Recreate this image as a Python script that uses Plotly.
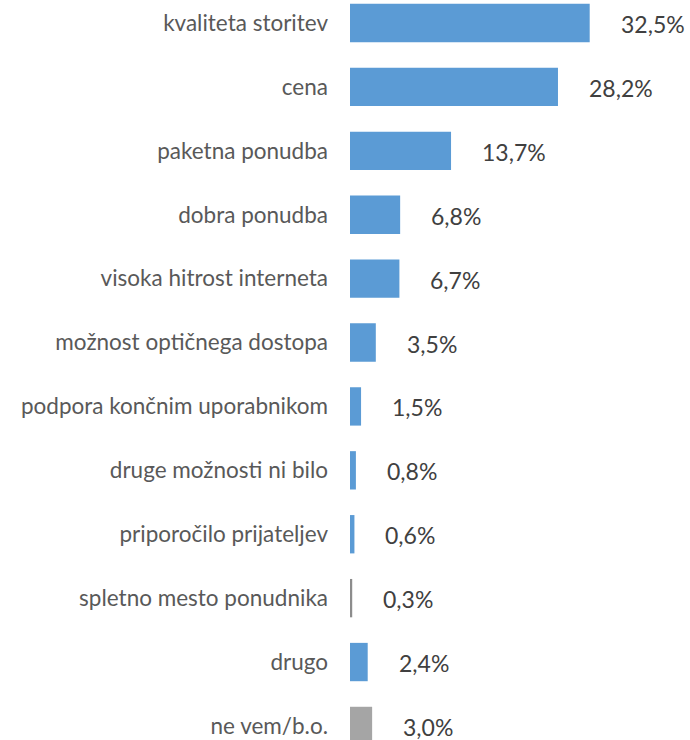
import plotly.graph_objects as go

categories = [
    "kvaliteta storitev", "cena", "paketna ponudba", "dobra ponudba",
    "visoka hitrost interneta", "možnost optičnega dostopa",
    "podpora končnim uporabnikom", "druge možnosti ni bilo",
    "priporočilo prijateljev", "spletno mesto ponudnika", "drugo", "ne vem/b.o.",
]
values = [32.5, 28.2, 13.7, 6.8, 6.7, 3.5, 1.5, 0.8, 0.6, 0.3, 2.4, 3.0]
labels = ["32,5%", "28,2%", "13,7%", "6,8%", "6,7%", "3,5%", "1,5%", "0,8%",
          "0,6%", "0,3%", "2,4%", "3,0%"]
colors = ["#5B9BD5"] * 9 + ["#8C8C8C", "#5B9BD5", "#A5A5A5"]

FONT = "Lato"

fig = go.Figure(go.Bar(
    x=values, y=categories, orientation="h",
    marker=dict(color=colors, line=dict(width=0)),
    width=0.6, hoverinfo="skip",
))

for c, v, t in zip(categories, values, labels):
    fig.add_annotation(x=v, y=c, text=t, xanchor="left", yanchor="middle",
                       xshift=29, yshift=-1, showarrow=False,
                       font=dict(family=FONT, size=23, color="#404040"))

fig.update_layout(
    width=690, height=740,
    margin=dict(l=350, r=0, t=0, b=0),
    paper_bgcolor="white", plot_bgcolor="white",
    showlegend=False,
    bargap=0.4,
    font=dict(family=FONT, size=22.5, color="#595959"),
)
fig.update_xaxes(range=[0, 46.1], visible=False, fixedrange=True)
fig.update_yaxes(range=[11.22, -0.36], showgrid=False, showline=False,
                 zeroline=False, ticks="", ticklabelstandoff=21,
                 fixedrange=True,
                 tickfont=dict(family=FONT, size=22.5, color="#595959"))

fig.write_html("out.html",
               config={"displayModeBar": False, "staticPlot": True},
               post_script="document.body.style.margin='0';document.body.style.overflow='hidden';")
